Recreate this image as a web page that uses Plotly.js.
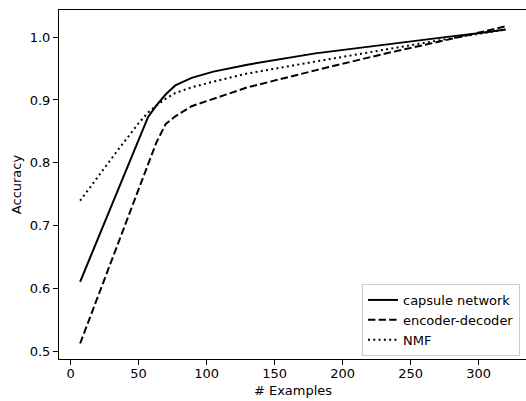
<!DOCTYPE html>
<html>
<head>
<meta charset="utf-8">
<script src="https://cdn.plot.ly/plotly-3.0.1.min.js"></script>
<style>
html, body { margin: 0; padding: 0; overflow: hidden; background: #fff; }
#chart { width: 528px; height: 401px; }
</style>
</head>
<body>
<div id="chart"></div>
<script>
// Data
const examples = [7, 20, 35, 50, 57, 63, 70, 77, 89, 105, 130, 180, 230, 280, 300, 320];
const capsuleNetwork = [0.611, 0.679, 0.757, 0.835, 0.873, 0.891, 0.909, 0.923, 0.935, 0.945, 0.956, 0.974, 0.988, 1.001, 1.006, 1.012];
const encoderDecoder = [0.513, 0.587, 0.672, 0.757, 0.797, 0.832, 0.862, 0.874, 0.890, 0.902, 0.920, 0.947, 0.973, 0.997, 1.007, 1.017];
const nmf = [0.740, 0.778, 0.821, 0.863, 0.880, 0.891, 0.902, 0.911, 0.920, 0.929, 0.942, 0.961, 0.980, 0.998, 1.005, 1.012];
const seriesNames = ['capsule network', 'encoder-decoder', 'NMF'];
const xTicks = [0, 50, 100, 150, 200, 250, 300];
const yTicks = [0.5, 0.6, 0.7, 0.8, 0.9, 1.0];

const FONT = 'DejaVu Sans, sans-serif';
const lw = 2;

const traces = [
  { x: examples, y: capsuleNetwork, name: seriesNames[0], mode: 'lines',
    line: { color: '#000', width: lw, dash: 'solid' } },
  { x: examples, y: encoderDecoder, name: seriesNames[1], mode: 'lines',
    line: { color: '#000', width: lw, dash: '7.4px,3.2px' } },
  { x: examples, y: nmf, name: seriesNames[2], mode: 'lines',
    line: { color: '#000', width: lw, dash: '2px,3.3px' } }
];

const axisCommon = {
  showline: true, mirror: true, linecolor: '#000', linewidth: 1,
  ticks: 'outside', ticklen: 5, tickwidth: 1, tickcolor: '#000',
  showgrid: false, zeroline: false,
  tickfont: { family: FONT, size: 13, color: '#000' }
};

const layout = {
  width: 528, height: 401,
  margin: { l: 58.7, r: 1.3, t: 10.3, b: 42 },
  paper_bgcolor: '#fff', plot_bgcolor: '#fff',
  font: { family: FONT, size: 13, color: '#000' },
  xaxis: Object.assign({}, axisCommon, {
    range: [-8.52, 335.6],
    tickvals: xTicks, ticktext: xTicks.map(String),
    ticklabelstandoff: -3,
    title: { text: '# Examples', font: { family: FONT, size: 13, color: '#000' }, standoff: 6 }
  }),
  yaxis: Object.assign({}, axisCommon, {
    range: [0.4884, 1.0429],
    tickvals: yTicks, ticktext: yTicks.map(v => v.toFixed(1)),
    title: { text: 'Accuracy', font: { family: FONT, size: 13, color: '#000' }, standoff: 5 }
  }),
  showlegend: true,
  legend: {
    x: 0.985, xanchor: 'right', y: 0.0086, yanchor: 'bottom',
    bgcolor: 'rgba(255,255,255,0.8)', bordercolor: '#cccccc', borderwidth: 1,
    font: { family: FONT, size: 13, color: '#000' },
    tracegroupgap: 0
  }
};

Plotly.newPlot('chart', traces, layout, { staticPlot: true, displayModeBar: false });
</script>
</body>
</html>
